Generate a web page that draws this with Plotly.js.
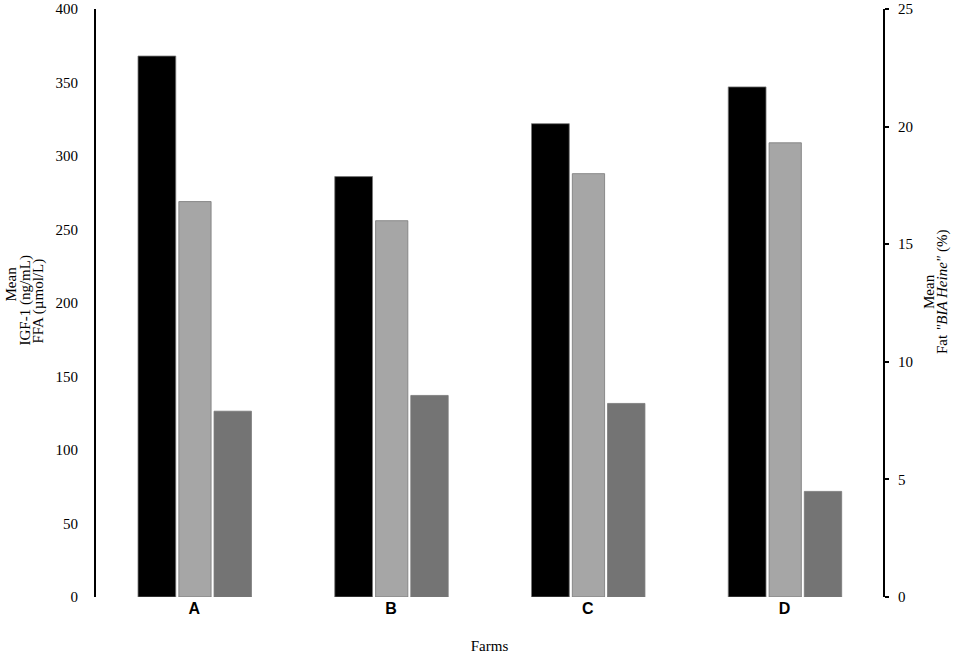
<!DOCTYPE html>
<html>
<head>
<meta charset="utf-8">
<script src="https://cdn.plot.ly/plotly-3.0.1.min.js"></script>
<style>html,body{margin:0;padding:0;background:#fff;}#chart{width:957px;height:655px;}</style>
</head>
<body>
<div id="chart"></div>
<script>
const farms = ['A', 'B', 'C', 'D'];
const igf1 = [368, 286, 322, 347];      // ng/mL (left axis)
const ffa = [269, 256, 288, 309];       // µmol/L (left axis)
const fatBIA = [7.9, 8.57, 8.23, 4.49]; // % (right axis)
const leftTitleLines = ['Mean', 'IGF-1 (ng/mL)', 'FFA (µmol/L)'];
const rightTitleLines = ['Mean', 'Fat <i>"BIA Heine"</i> (%)'];

const serif = '"Liberation Serif", "Times New Roman", serif';
const lineCol = 'rgba(120,120,120,0.8)';

const W = 957, H = 655, M = {l: 96, r: 74, t: 9, b: 58};
const pw = W - M.l - M.r, ph = H - M.t - M.b;
const px = v => (v - M.l) / pw;
const py = v => (H - M.b - v) / ph;

const traces = [
  {type: 'bar', x: farms, y: igf1, name: 'IGF-1', yaxis: 'y',
   width: 0.192, offset: -0.2865,
   marker: {color: '#000000', line: {color: lineCol, width: 1}}},
  {type: 'bar', x: farms, y: ffa, name: 'FFA', yaxis: 'y',
   width: 0.164, offset: -0.079,
   marker: {color: '#a6a6a6', line: {color: lineCol, width: 1}}},
  {type: 'bar', x: farms, y: fatBIA, name: 'Fat BIA Heine', yaxis: 'y2',
   width: 0.19, offset: 0.100,
   marker: {color: '#747474', line: {color: lineCol, width: 1}}}
];

const titleFont = {family: serif, size: 15, color: '#000'};
const leftX = [10.5, 24.5, 37.5], leftY = [284, 301, 301];
const rightX = [929, 942], rightY = [292, 292];
const annotations = [];
leftTitleLines.forEach((t, i) => annotations.push({
  text: t, xref: 'paper', yref: 'paper', x: px(leftX[i]), y: py(leftY[i]),
  xanchor: 'center', yanchor: 'middle', textangle: -90, showarrow: false, font: titleFont
}));
rightTitleLines.forEach((t, i) => annotations.push({
  text: t, xref: 'paper', yref: 'paper', x: px(rightX[i]), y: py(rightY[i]),
  xanchor: 'center', yanchor: 'middle', textangle: -90, showarrow: false, font: titleFont
}));

const layout = {
  width: W, height: H,
  margin: {l: M.l, r: M.r, t: M.t, b: M.b, pad: 0},
  paper_bgcolor: '#fff', plot_bgcolor: '#fff',
  showlegend: false,
  barmode: 'overlay',
  font: {family: serif, size: 15, color: '#000'},
  annotations: annotations,
  xaxis: {
    type: 'category', range: [-0.5, 3.5],
    showline: false, showgrid: false, zeroline: false, ticks: '',
    tickfont: {family: '"Liberation Sans", Arial, sans-serif', size: 16, color: '#000', weight: 'bold'},
    title: {text: 'Farms', font: {family: serif, size: 15, color: '#000'}, standoff: 24}
  },
  yaxis: {
    range: [0, 400], dtick: 50, showgrid: false, zeroline: false,
    showline: true, linecolor: '#000', linewidth: 2, ticks: '',
    ticklabelstandoff: 13,
    tickfont: {family: serif, size: 15, color: '#000'}
  },
  yaxis2: {
    range: [0, 25], dtick: 5, overlaying: 'y', side: 'right', anchor: 'x',
    showgrid: false, zeroline: false,
    showline: true, linecolor: '#000', linewidth: 2,
    ticks: 'outside', ticklen: 4, tickwidth: 2, tickcolor: '#000',
    ticklabelstandoff: 6,
    tickfont: {family: serif, size: 15, color: '#000'}
  }
};

Plotly.newPlot('chart', traces, layout, {displayModeBar: false, staticPlot: true});
</script>
</body>
</html>
